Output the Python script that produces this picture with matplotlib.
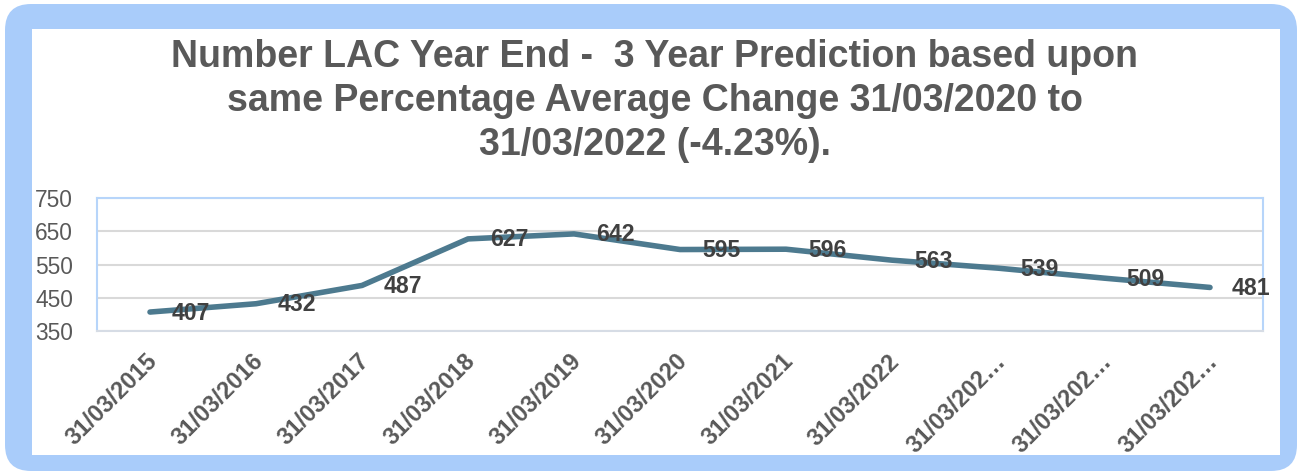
import matplotlib.pyplot as plt
import matplotlib.transforms as mtransforms
from matplotlib.patches import FancyBboxPatch, Rectangle

plt.rcParams['font.family'] = ['Liberation Sans', 'DejaVu Sans']

# Dados do gráfico
categorias = ['31/03/2015', '31/03/2016', '31/03/2017', '31/03/2018', '31/03/2019',
              '31/03/2020', '31/03/2021', '31/03/2022', '31/03/202…', '31/03/202…',
              '31/03/202…']
valores = [407, 432, 487, 627, 642, 595, 596, 563, 539, 509, 481]
y_ticks = [350, 450, 550, 650, 750]
titulo = ('Number LAC Year End -  3 Year Prediction based upon\n'
          'same Percentage Average Change 31/03/2020 to\n'
          '31/03/2022 (-4.23%).')

W, H = 1302, 475
fig = plt.figure(figsize=(W / 100, H / 100), dpi=100)
fig.patch.set_facecolor('white')

# Moldura azul com cantos arredondados e área branca interna
fig.patches.append(FancyBboxPatch((5 / W, 4 / H), 1292 / W, 467 / H,
                                  boxstyle='round,pad=0,rounding_size=0.02',
                                  transform=fig.transFigure, facecolor='#A9CCFA',
                                  edgecolor='none', mutation_aspect=W / H, zorder=-2))
fig.patches.append(Rectangle((32 / W, (H - 455) / H), 1248 / W, 426 / H,
                             transform=fig.transFigure, facecolor='white',
                             edgecolor='none', zorder=-1))

# Eixo do gráfico
ax = fig.add_axes([97 / W, (H - 331) / H, 1166 / W, 133 / H])
ax.patch.set_alpha(0)
x = range(len(valores))
ax.plot(x, valores, color='#4D7A8F', linewidth=4, solid_capstyle='round')
ax.set_xlim(-0.5, len(valores) - 0.5)
ax.set_ylim(350, 750)
ax.set_yticks(y_ticks)
ax.yaxis.grid(True, color='#D9D9D9', linewidth=1.5)
ax.set_axisbelow(True)
ax.tick_params(axis='both', length=0)
for s in ['left', 'top', 'right']:
    ax.spines[s].set_color('#B7D5FA')
    ax.spines[s].set_linewidth(1.5)
ax.spines['bottom'].set_color('#D6DCE5')
ax.spines['bottom'].set_linewidth(1.5)

# Rótulos do eixo y
ax.set_yticklabels([str(v) for v in y_ticks], fontsize=16.4, color='#595959')
for lbl in ax.get_yticklabels():
    lbl.set_horizontalalignment('left')
    lbl.set_transform(lbl.get_transform() + mtransforms.ScaledTranslation(
        -57 / 100, 0, fig.dpi_scale_trans))

# Rótulos do eixo x (rotacionados)
ax.set_xticks(list(x))
ax.set_xticklabels(categorias, fontsize=17, fontweight='bold', color='#595959',
                   rotation=45, ha='right', va='center', rotation_mode='anchor')
offset = mtransforms.ScaledTranslation(4 / 100, -22 / 100, fig.dpi_scale_trans)
for lbl in ax.get_xticklabels():
    lbl.set_transform(lbl.get_transform() + offset)

# Rótulos de dados
for i, v in enumerate(valores):
    ax.annotate(str(v), (i, v), xytext=(22, -1), textcoords='offset pixels',
                ha='left', va='center', fontsize=16.6, fontweight='bold',
                color='#404040')

# Título
fig.text(655 / W, (H - 101) / H, titulo, ha='center', va='center',
         fontsize=27, fontweight='bold', color='#595959', linespacing=1.27)

fig.savefig('out.png', dpi=100)
